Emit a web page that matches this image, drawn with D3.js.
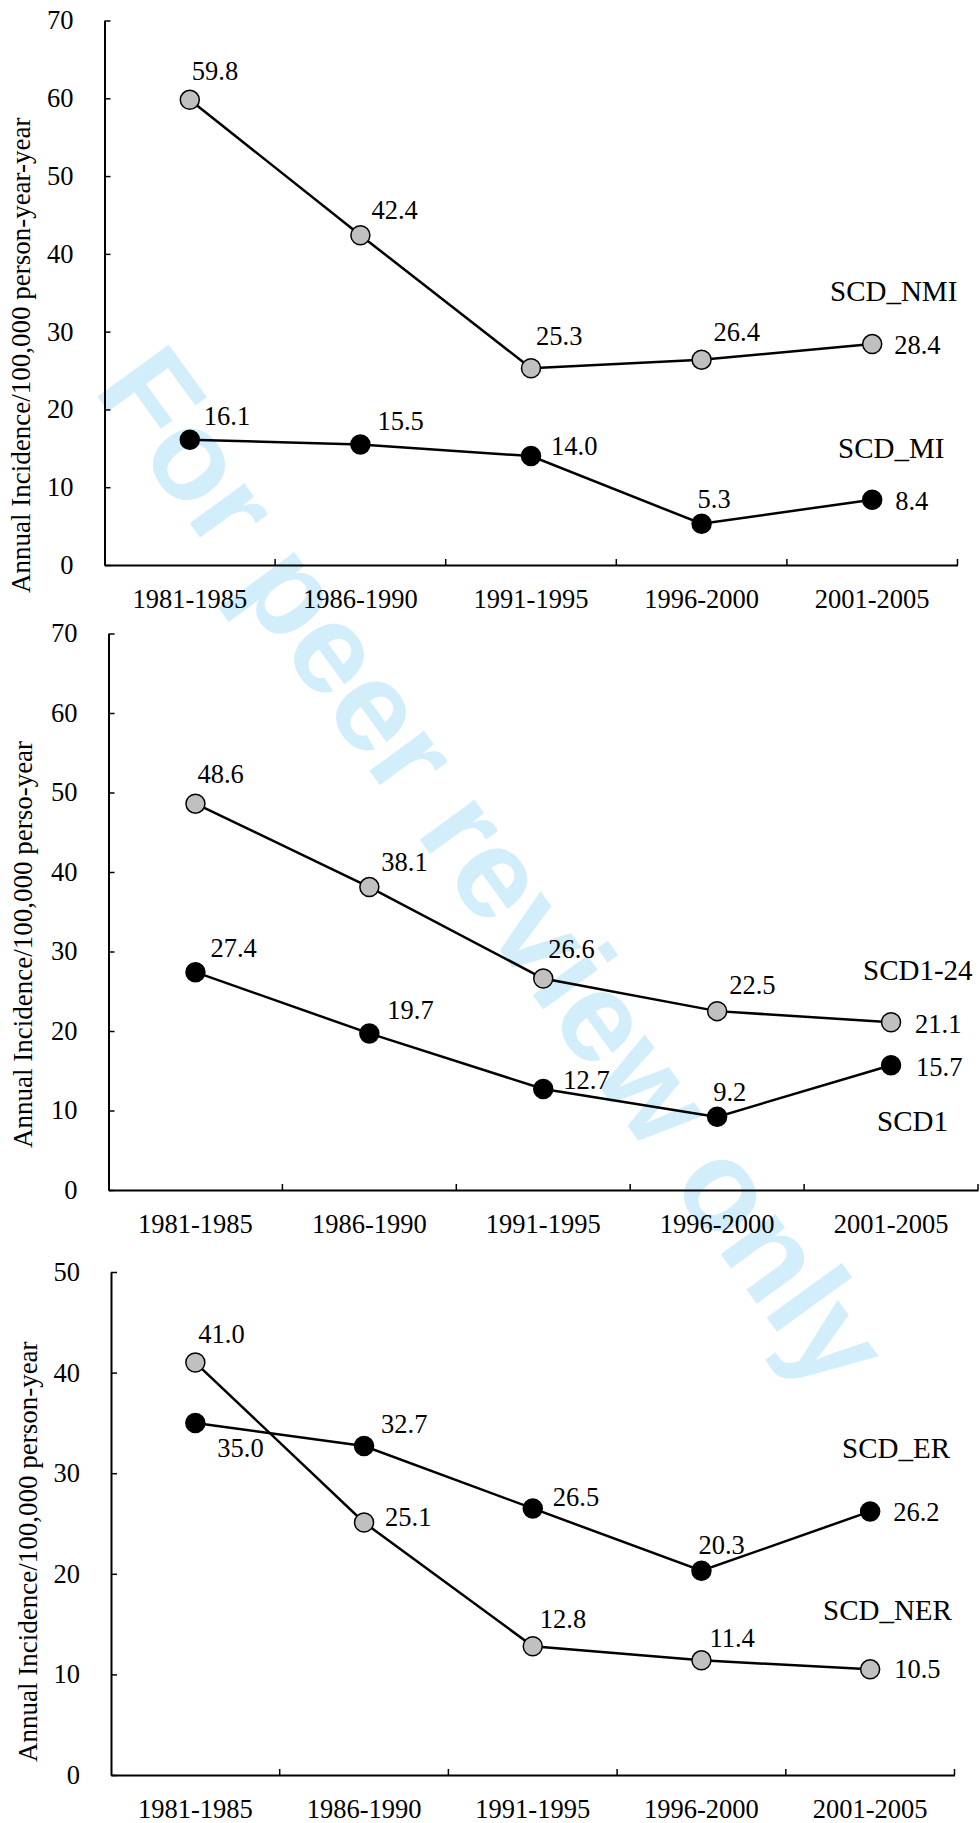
<!DOCTYPE html>
<html>
<head>
<meta charset="utf-8">
<script src="https://cdn.jsdelivr.net/npm/d3@7"></script>
<style>
  body { margin: 0; background: white; }
  svg { display: block; }
  .serif { font-family: "Liberation Serif", "Times New Roman", Times, "DejaVu Serif", serif; }
  .mark { font-family: "Liberation Sans", Arial, Helvetica, sans-serif; font-weight: bold; }
</style>
</head>
<body>
<script>
// data
var periods = ['1981-1985', '1986-1990', '1991-1995', '1996-2000', '2001-2005'];

var scdNMI = [59.8, 42.4, 25.3, 26.4, 28.4];
var scdMI = [16.1, 15.5, 14.0, 5.3, 8.4];

var scd124 = [48.6, 38.1, 26.6, 22.5, 21.1];
var scd1 = [27.4, 19.7, 12.7, 9.2, 15.7];

var scdER = [35.0, 32.7, 26.5, 20.3, 26.2];
var scdNER = [41.0, 25.1, 12.8, 11.4, 10.5];

var yTicks70 = [0, 10, 20, 30, 40, 50, 60, 70];
var yTicks50 = [0, 10, 20, 30, 40, 50];

var titles = [
  'Annual Incidence/100,000 person-year-year',
  'Annual Incidence/100,000 perso-year',
  'Annual Incidence/100,000 person-year'
];

var GREY = '#c0c0c0';

var svg = d3.select('body')
  .append('svg')
  .attr('width', 980)
  .attr('height', 1823);

// watermark sits under everything
svg.append('text')
  .attr('class', 'mark')
  .attr('transform', 'translate(92.5,389.5) rotate(54)')
  .attr('font-size', 128)
  .attr('fill', '#d3eefb')
  .text('For peer review only');

var panels = [
  {
    left: 104.5, right: 957.5, top: 20.5, bottom: 565, max: 70, ticks: yTicks70,
    title: titles[0], titleX: 30, titleY: 593,
    series: [
      { values: scdNMI, fill: GREY, name: 'SCD_NMI', nameX: 830, nameY: 301,
        offs: [[2, -20], [11, -16], [5, -23], [12, -19], [22, 10]] },
      { values: scdMI, fill: 'black', name: 'SCD_MI', nameX: 838, nameY: 458,
        offs: [[14, -15], [17, -14], [20, -1], [-4, -16], [23, 10]] }
    ]
  },
  {
    left: 108.5, right: 978, top: 633.5, bottom: 1190, max: 70, ticks: yTicks70,
    title: titles[1], titleX: 32, titleY: 1148,
    series: [
      { values: scd124, fill: GREY, name: 'SCD1-24', nameX: 863, nameY: 980,
        offs: [[2, -21], [12, -16], [5, -21], [12, -17], [24, 11]] },
      { values: scd1, fill: 'black', name: 'SCD1', nameX: 877, nameY: 1131,
        offs: [[15, -15], [18, -14], [20, 0], [-4, -16], [25, 11]] }
    ]
  },
  {
    left: 111, right: 954.5, top: 1272, bottom: 1775, max: 50, ticks: yTicks50,
    title: titles[2], titleX: 37, titleY: 1762,
    series: [
      { values: scdNER, fill: GREY, name: 'SCD_NER', nameX: 823, nameY: 1620,
        offs: [[3, -20], [21, 4], [7, -18], [8, -13], [24, 9]] },
      { values: scdER, fill: 'black', name: 'SCD_ER', nameX: 842, nameY: 1458,
        offs: [[22, 34], [17, -13], [20, -2], [-3, -17], [23, 10]] }
    ]
  }
];

panels.forEach(drawPanel);

function drawPanel(p) {
  var x = d3.scaleBand()
    .domain(periods)
    .range([p.left, p.right])
    .padding(0);

  var y = d3.scaleLinear()
    .domain([0, p.max])
    .range([p.bottom, p.top]);

  var g = svg.append('g').attr('class', 'serif');

  // y axis, ticks pointing inward
  var yAxis = d3.axisLeft(y)
    .tickValues(p.ticks)
    .tickSizeInner(-6)
    .tickSizeOuter(0)
    .tickPadding(31)
    .tickFormat(d3.format('d'));

  var ya = g.append('g')
    .attr('transform', 'translate(' + p.left + ',0)')
    .call(yAxis);
  styleAxis(ya);

  // x axis: labels at band centres, ticks at band edges
  var xAxis = d3.axisBottom(x)
    .tickSize(0)
    .tickPadding(26);

  var xa = g.append('g')
    .attr('transform', 'translate(0,' + p.bottom + ')')
    .call(xAxis);
  styleAxis(xa);
  xa.selectAll('.tick text').attr('dy', '0.71em').attr('y', 24);

  xa.selectAll('line.edge')
    .data(periods)
    .enter()
    .append('line')
    .attr('class', 'edge')
    .attr('x1', function(d) { return x(d) + x.bandwidth(); })
    .attr('x2', function(d) { return x(d) + x.bandwidth(); })
    .attr('y1', 0)
    .attr('y2', -6)
    .attr('stroke', 'black')
    .attr('stroke-width', 1.5);

  // axis title
  g.append('text')
    .attr('transform', 'translate(' + p.titleX + ',' + p.titleY + ') rotate(-90)')
    .attr('font-size', 27)
    .attr('fill', 'black')
    .text(p.title);

  var line = d3.line()
    .x(function(d, i) { return x(periods[i]) + x.bandwidth() / 2; })
    .y(function(d) { return y(d); });

  p.series.forEach(function(s) {
    g.append('path')
      .datum(s.values)
      .attr('d', line)
      .attr('fill', 'none')
      .attr('stroke', 'black')
      .attr('stroke-width', 2.5);
  });

  p.series.forEach(function(s) {
    g.selectAll(null)
      .data(s.values)
      .enter()
      .append('circle')
      .attr('cx', function(d, i) { return x(periods[i]) + x.bandwidth() / 2; })
      .attr('cy', function(d) { return y(d); })
      .attr('r', 9.5)
      .attr('fill', s.fill)
      .attr('stroke', 'black')
      .attr('stroke-width', 1.5);

    g.selectAll(null)
      .data(s.values)
      .enter()
      .append('text')
      .attr('x', function(d, i) { return x(periods[i]) + x.bandwidth() / 2 + s.offs[i][0]; })
      .attr('y', function(d, i) { return y(d) + s.offs[i][1]; })
      .attr('font-size', 26.5)
      .attr('fill', 'black')
      .text(function(d) { return d.toFixed(1); });

    g.append('text')
      .attr('x', s.nameX)
      .attr('y', s.nameY)
      .attr('font-size', 29)
      .attr('fill', 'black')
      .text(s.name);
  });
}

function styleAxis(sel) {
  // d3 sets font-family on the axis group, drop it so the css class wins
  sel.attr('font-family', null).attr('font-size', null);
  sel.select('.domain')
    .attr('stroke', 'black')
    .attr('stroke-width', 2);
  sel.selectAll('.tick line')
    .attr('stroke', 'black')
    .attr('stroke-width', 1.5);
  sel.selectAll('.tick text')
    .attr('font-size', 26.5)
    .attr('fill', 'black');
}
</script>
</body>
</html>
